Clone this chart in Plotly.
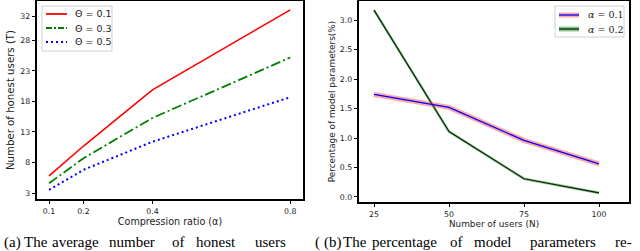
import plotly.graph_objects as go

# ---------------- data ----------------
ratio = [0.1, 0.2, 0.4, 0.8]
theta_01 = [5.8, 10.7, 19.9, 33.0]
theta_03 = [4.6, 8.7, 15.3, 25.2]
theta_05 = [3.5, 6.8, 11.4, 18.7]
left_yticks = [3, 8, 13, 18, 23, 28, 32]

users = [25, 50, 75, 100]
alpha_01 = [1.74, 1.52, 0.96, 0.56]
alpha_02 = [3.17, 1.11, 0.31, 0.07]
right_yticks = [0.0, 0.5, 1.0, 1.5, 2.0, 2.5, 3.0]

caption_a = ["(a)", "The", "average", "number", "of", "honest", "users", "("]
caption_b = ["(b)", "The", "percentage", "of", "model", "parameters", "re-"]
caption_a_x = [2, 22, 50, 107, 170, 194, 253, 313]
caption_b_x = [322, 341, 370, 448, 472, 528, 613]

W, H = 640, 251
def px(x):
    return x / W
def py(y):
    return 1 - y / H

SANS = "DejaVu Sans"
SERIF = "Liberation Serif, Times New Roman, Times, serif"

fig = go.Figure()

# left panel
fig.add_trace(go.Scatter(x=ratio, y=theta_01, mode="lines", name="Θ = 0.1",
                         line=dict(color="#ff0000", width=1.6), showlegend=False,
                         xaxis="x", yaxis="y"))
fig.add_trace(go.Scatter(x=ratio, y=theta_03, mode="lines", name="Θ = 0.3",
                         line=dict(color="#008000", width=1.8, dash="10px,3px,2px,3px"),
                         showlegend=False, xaxis="x", yaxis="y"))
fig.add_trace(go.Scatter(x=ratio, y=theta_05, mode="lines", name="Θ = 0.5",
                         line=dict(color="#0000ff", width=2, dash="2px,3px"),
                         showlegend=False, xaxis="x", yaxis="y"))

# right panel: halo + line
fig.add_trace(go.Scatter(x=users, y=alpha_02, mode="lines", showlegend=False,
                         line=dict(color="rgba(0,128,0,0.45)", width=2.6),
                         xaxis="x2", yaxis="y2", hoverinfo="skip"))
fig.add_trace(go.Scatter(x=users, y=alpha_02, mode="lines", name="α = 0.2", showlegend=False,
                         line=dict(color="#082008", width=1.1), xaxis="x2", yaxis="y2"))
fig.add_trace(go.Scatter(x=users, y=alpha_01, mode="lines", showlegend=False,
                         line=dict(color="rgba(255,60,60,0.45)", width=5),
                         xaxis="x2", yaxis="y2", hoverinfo="skip"))
fig.add_trace(go.Scatter(x=users, y=alpha_01, mode="lines", name="α = 0.1", showlegend=False,
                         line=dict(color="#0000ff", width=1.3), xaxis="x2", yaxis="y2"))

axis_common = dict(showline=True, linecolor="black", linewidth=1.6, mirror=True,
                   ticks="outside", ticklen=3.5, tickwidth=0.8, tickcolor="black",
                   showgrid=False, zeroline=False, automargin=False,
                   tickfont=dict(family=SANS, size=7.8, color="#222"))

fig.update_layout(
    width=W, height=H,
    margin=dict(l=0, r=0, t=0, b=0),
    paper_bgcolor="white", plot_bgcolor="white",
    showlegend=False,
    xaxis=dict(domain=[px(37), px(303)], range=[0.065, 0.837],
               tickvals=ratio, ticktext=["0.1", "0.2", "0.4", "0.8"],
               title=dict(text="Compression ratio (α)", standoff=3,
                          font=dict(family=SANS, size=9.6, color="#222")),
               anchor="y", **axis_common),
    yaxis=dict(domain=[py(199), py(1)], range=[2.02, 34.46],
               tickvals=left_yticks, ticktext=[str(v) for v in left_yticks],
               title=dict(text="Number of honest users (T)", standoff=4,
                          font=dict(family=SANS, size=10.2, color="#222")),
               anchor="x", **axis_common),
    xaxis2=dict(domain=[px(359), px(629)], range=[20, 110],
                tickvals=users, ticktext=[str(v) for v in users],
                title=dict(text="Number of users (N)", standoff=3,
                           font=dict(family=SANS, size=8.9, color="#222")),
                anchor="y2", **axis_common),
    yaxis2=dict(domain=[py(202), py(1)], range=[-0.085, 3.325],
                tickvals=right_yticks, ticktext=[f"{v:.1f}" for v in right_yticks],
                title=dict(text="Percentage of model parameters(%)", standoff=3,
                           font=dict(family=SANS, size=8.9, color="#222")),
                anchor="x2", **axis_common),
)

shapes = []
annotations = []

# left legend (manual)
shapes.append(dict(type="rect", xref="paper", yref="paper", x0=px(42), x1=px(112),
                   y0=py(51), y1=py(6), line=dict(color="#d0d0d0", width=1),
                   fillcolor="rgba(255,255,255,0.85)", layer="above"))
left_leg = [("Θ = 0.1", "#ff0000", "solid", 14), ("Θ = 0.3", "#008000", "6px,2px,2px,2px", 28),
            ("Θ = 0.5", "#0000ff", "2px,3px", 42)]
for label, col, dash, yy in left_leg:
    shapes.append(dict(type="line", xref="paper", yref="paper", x0=px(46), x1=px(67),
                       y0=py(yy), y1=py(yy), line=dict(color=col, width=1.8, dash=dash),
                       layer="above"))
    annotations.append(dict(text=label, xref="paper", yref="paper", x=px(73), y=py(yy),
                            xanchor="left", yanchor="middle", showarrow=False,
                            font=dict(family=SANS, size=9.5, color="#222")))

# right legend (manual)
shapes.append(dict(type="rect", xref="paper", yref="paper", x0=px(555), x1=px(624),
                   y0=py(37), y1=py(6), line=dict(color="#d0d0d0", width=1),
                   fillcolor="rgba(255,255,255,0.85)", layer="above"))
right_leg = [("<i>α</i> = 0.1", "rgba(255,60,60,0.45)", 5, "#0000ff", 15),
             ("<i>α</i> = 0.2", "rgba(0,128,0,0.45)", 5, "#082008", 29)]
for label, halo, hw, col, yy in right_leg:
    shapes.append(dict(type="line", xref="paper", yref="paper", x0=px(559), x1=px(579),
                       y0=py(yy), y1=py(yy), line=dict(color=halo, width=hw), layer="above"))
    shapes.append(dict(type="line", xref="paper", yref="paper", x0=px(559), x1=px(579),
                       y0=py(yy), y1=py(yy), line=dict(color=col, width=1.3), layer="above"))
    annotations.append(dict(text=label, xref="paper", yref="paper", x=px(586), y=py(yy),
                            xanchor="left", yanchor="middle", showarrow=False,
                            font=dict(family="DejaVu Serif", size=9.5, color="#222")))

# captions
for words, xs in ((caption_a, caption_a_x), (caption_b, caption_b_x)):
    for w, xx in zip(words, xs):
        annotations.append(dict(text=w, xref="paper", yref="paper", x=px(xx), y=py(242),
                                xanchor="left", yanchor="middle", showarrow=False,
                                font=dict(family=SERIF, size=15, color="black")))

fig.update_layout(shapes=shapes, annotations=annotations)

fig.write_html("out.html", config={"displayModeBar": False},
               post_script="document.body.style.margin='0';document.body.style.padding='0';")
